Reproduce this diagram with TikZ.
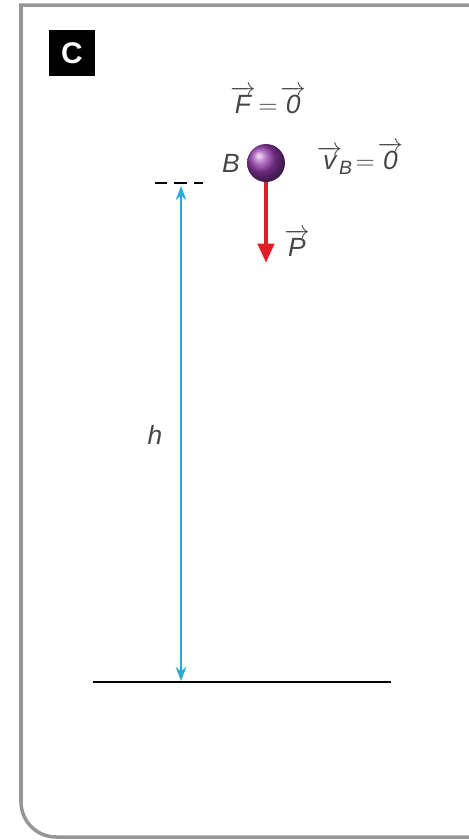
\documentclass[tikz,border=0pt]{standalone}
\usepackage{amsmath}
\usepackage{fontspec}
\setmainfont{Liberation Sans}
\usetikzlibrary{arrows.meta}

\definecolor{framegray}{RGB}{150,150,150}
\definecolor{labelgray}{RGB}{70,70,70}
\definecolor{hblue}{RGB}{40,170,220}
\definecolor{forcered}{RGB}{225,30,40}
\definecolor{ballpurple}{RGB}{150,60,175}

\newcommand{\vecit}[1]{\overrightarrow{\textit{#1}}}

\tikzset{
    lbl/.style={text=labelgray, font=\fontsize{15}{18}\selectfont, inner sep=0pt},
    ball/.style={circle, minimum size=0.76cm, inner sep=0pt,
        ball color=ballpurple},
}

\begin{document}
\begin{tikzpicture}[x=0.02cm, y=-0.02cm]

    % Picture size
    \useasboundingbox (0,0) rectangle (469,840);
    \clip (0,0) rectangle (469,840);

    % Frame
    \draw[framegray, line width=2pt] (480,5) -- (21,5)
        [rounded corners=20] -- (21,837) -- (480,837);

    % Tag
    \node[fill=black, minimum size=0.92cm, inner sep=0pt,
        text=white, font=\fontsize{17}{17}\selectfont\bfseries] (tag) at (72,53) {C};

    % Ball
    \node[ball] (B) at (266,163) {};
    \node[lbl, anchor=east] (Blbl) at (240,163) {\textit{B}};
    \node[lbl] (F) at (268,100) {$\vecit{F}\mkern2mu{=}\mkern2mu\vecit{0}$};
    \node[lbl] (vB) at (360,158) {$\vecit{v}_{\!\text{\fontsize{11}{11}\selectfont\itshape B}}\mkern2mu{=}\mkern2mu\vecit{0}$};

    % Weight
    \coordinate (Pend) at (266,263);
    \draw[forcered, line width=2.6pt, -{Triangle[length=11pt, width=9pt]}] (B.south) -- (Pend);
    \node[lbl] (P) at (297,243) {$\vecit{P}$};

    % Height
    \coordinate (dashL) at (155,183);
    \coordinate (dashR) at (203,183);
    \draw[black, line width=1.2pt, dash pattern=on 7pt off 4pt] (dashL) -- (dashR);
    \coordinate (htop) at (181,186);
    \coordinate (hbot) at (181,681);
    \draw[hblue, line width=1.3pt, {Stealth[length=8pt, width=6pt]}-{Stealth[length=8pt, width=6pt]}] (htop) -- (hbot);
    \node[lbl] (h) at (155,435) {\textit{h}};

    % Ground
    \coordinate (gL) at (93,682);
    \coordinate (gR) at (391,682);
    \draw[black, line width=1.5pt] (gL) -- (gR);

\end{tikzpicture}
\end{document}
